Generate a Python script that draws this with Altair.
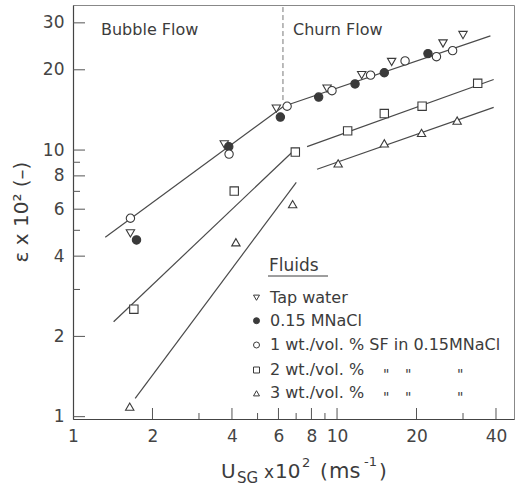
import altair as alt
import pandas as pd

FONT = "DejaVu Sans"
INK = "#3c3c3c"

# Superficial gas velocity U_SG (x 10^2 m/s) and gas hold-up eps (x 10^2)
tap_x = [1.65, 3.74, 5.89, 9.17, 12.4, 16.1, 25.2, 30.0]
tap_y = [4.87, 10.5, 14.3, 17.0, 19.1, 21.4, 25.1, 27.0]
nacl_x = [1.74, 3.89, 6.10, 8.52, 11.7, 15.1, 22.1]
nacl_y = [4.60, 10.3, 13.3, 15.8, 17.7, 19.5, 23.0]
sf1_x = [1.65, 3.90, 6.47, 9.57, 13.4, 18.1, 23.8, 27.4]
sf1_y = [5.55, 9.66, 14.6, 16.7, 19.1, 21.6, 22.4, 23.6]
sf2_x = [1.70, 4.08, 6.95, 10.97, 15.1, 21.0, 34.1]
sf2_y = [2.53, 7.02, 9.83, 11.8, 13.7, 14.6, 17.8]
sf3_x = [1.64, 4.14, 6.79, 10.1, 15.1, 20.9, 28.5]
sf3_y = [1.09, 4.51, 6.27, 8.91, 10.6, 11.6, 12.9]

# Correlation lines (bubble and churn regimes), given by their end points
fit_id = ["a1", "a1", "a2", "a2", "b1", "b1", "b2", "b2", "c1", "c1", "c2", "c2"]
fit_x = [1.325, 6.28, 6.28, 38.1, 1.425, 6.85, 7.70, 39.2, 1.72, 7.01, 8.40, 39.2]
fit_y = [4.71, 14.6, 14.6, 26.8, 2.27, 9.94, 10.3, 18.4, 1.17, 7.57, 8.47, 14.45]

# Regime transition
trans_x = [6.24, 6.24]
trans_y = [15.4, 35.0]

# Axis ticks
x_labels = [1, 2, 4, 6, 8, 10, 20, 40]
x_major = [2, 4, 6, 8, 10, 20, 40]
x_minor = [3, 5, 7, 9, 30]
y_labels = [1, 2, 4, 6, 8, 10, 20, 30]
y_major = [1, 2, 4, 6, 8, 10, 20, 30]
y_minor = [3, 5, 7, 9]

series_names = [
    "Tap water",
    "0.15 MNaCl",
    "1 wt./vol. % SF in 0.15MNaCl",
    "2 wt./vol. %",
    "3 wt./vol. %",
]
series_x = [tap_x, nacl_x, sf1_x, sf2_x, sf3_x]
series_y = [tap_y, nacl_y, sf1_y, sf2_y, sf3_y]
series_shape = ["triangle-down", "circle", "circle", "square", "triangle-up"]
series_fill = ["white", "#3a3a3a", "white", "white", "white"]

W, H = 441, 414
xs = alt.Scale(type="log", domain=[1, 46.8], nice=False)
ys = alt.Scale(type="log", domain=[0.98, 35.0], nice=False)

x_axis = alt.Axis(values=x_labels, format="d", tickSize=0, labelPadding=9,
                  labelFontSize=17, labelFont=FONT, labelColor="#444",
                  domainColor="#444", domainWidth=1.2, grid=False, title=None,
                  labelOverlap=False, labelFlush=False)
y_axis = alt.Axis(values=y_labels, format="d", tickSize=0, labelPadding=9,
                  labelFontSize=17, labelFont=FONT, labelColor="#444",
                  domainColor="#444", domainWidth=1.2, grid=False, title=None,
                  labelOverlap=False)


def X(field):
    return alt.X(field, scale=xs, axis=x_axis)


def Y(field):
    return alt.Y(field, scale=ys, axis=y_axis)


layers = []

# inward tick marks
layers.append(alt.Chart(pd.DataFrame({"v": x_major})).mark_rule(color="#555", strokeWidth=1).encode(
    x=X("v:Q"), y=alt.value(H), y2=alt.value(H - 11)))
layers.append(alt.Chart(pd.DataFrame({"v": x_minor})).mark_rule(color="#555", strokeWidth=1).encode(
    x=X("v:Q"), y=alt.value(H), y2=alt.value(H - 6)))
layers.append(alt.Chart(pd.DataFrame({"v": y_major})).mark_rule(color="#555", strokeWidth=1).encode(
    y=Y("v:Q"), x=alt.value(0), x2=alt.value(12)))
layers.append(alt.Chart(pd.DataFrame({"v": y_minor})).mark_rule(color="#555", strokeWidth=1).encode(
    y=Y("v:Q"), x=alt.value(0), x2=alt.value(7)))

# regime boundary
layers.append(alt.Chart(pd.DataFrame({"x": trans_x, "y": trans_y})).mark_line(
    color="#777", strokeWidth=1, strokeDash=[5, 3]).encode(x=X("x:Q"), y=Y("y:Q")))

# correlation lines
layers.append(alt.Chart(pd.DataFrame({"id": fit_id, "x": fit_x, "y": fit_y})).mark_line(
    color="#4a4a4a", strokeWidth=1.2).encode(x=X("x:Q"), y=Y("y:Q"), detail="id:N"))

# measured points
for name, sx, sy, shp, fil in zip(series_names, series_x, series_y, series_shape, series_fill):
    layers.append(alt.Chart(pd.DataFrame({"x": sx, "y": sy, "fluid": name})).mark_point(
        shape=shp, filled=True, fill=fil, stroke="#3a3a3a", strokeWidth=1.1,
        size=70, opacity=1).encode(x=X("x:Q"), y=Y("y:Q")))


def text_layer(txt, x, y, size, **kw):
    return alt.Chart(pd.DataFrame({"t": [txt]})).mark_text(
        font=FONT, fontSize=size, color=INK, align=kw.pop("align", "left"),
        baseline=kw.pop("baseline", "alphabetic"), **kw).encode(
        text="t:N", x=alt.value(x), y=alt.value(y))


# regime labels
layers.append(text_layer("Bubble Flow", 28, 30, 16))
layers.append(text_layer("Churn Flow", 220, 30, 16))

# key
layers.append(text_layer("Fluids", 196, 266, 17))
layers.append(alt.Chart(pd.DataFrame({"t": [0]})).mark_rule(color=INK, strokeWidth=1).encode(
    x=alt.value(195), x2=alt.value(255), y=alt.value(271)))
row_y = [292.7, 315.7, 340, 365, 388.3]
for name, shp, fil, ry in zip(series_names, series_shape, series_fill, row_y):
    layers.append(alt.Chart(pd.DataFrame({"fluid": [name]})).mark_point(
        shape=shp, filled=True, fill=fil, stroke="#3a3a3a", strokeWidth=1,
        size=36, opacity=1).encode(x=alt.value(183.5), y=alt.value(ry)))
    layers.append(alt.Chart(pd.DataFrame({"fluid": [name]})).mark_text(
        font=FONT, fontSize=16, color=INK, align="left", baseline="middle").encode(
        text="fluid:N", x=alt.value(197), y=alt.value(ry)))
for ry in row_y[3:]:
    for dx in [310, 332, 384]:
        layers.append(text_layer('"', dx, ry + 9, 14))

# axis titles
layers.append(text_layer("\u03b5 x 10\u00b2 (\u2013)", -51, 207, 20, angle=270,
                         align="center", baseline="middle"))
layers.append(text_layer("U", 148, 473, 20))
layers.append(text_layer("SG", 164, 478, 15))
layers.append(text_layer("x", 191, 473, 17))
layers.append(text_layer("10", 202, 473, 20))
layers.append(text_layer("2", 229, 462, 13))
layers.append(text_layer("(", 247, 473, 20))
layers.append(text_layer("ms", 256, 473, 21))
layers.append(text_layer("-1", 291, 461, 13))
layers.append(text_layer(")", 306, 473, 20))

chart = alt.layer(*layers).properties(
    width=W, height=H,
    padding={"left": 73, "top": 5, "right": 2, "bottom": 69},
    autosize=alt.AutoSizeParams(type="none"),
    background="white",
).configure_view(stroke="#888", strokeWidth=1)

chart.save("out.html", embed_options={"renderer": "svg", "actions": False})
